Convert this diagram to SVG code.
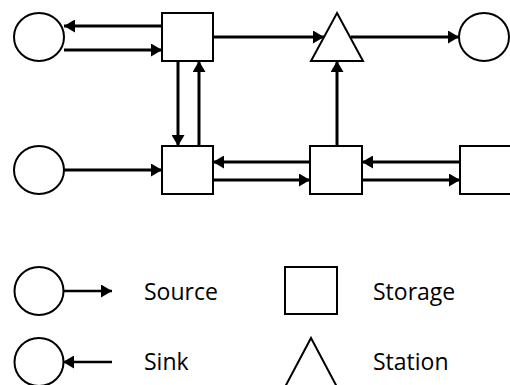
<svg xmlns="http://www.w3.org/2000/svg" width="510" height="385" viewBox="0 0 510 385">
  <style>
    .shape { fill: #fff; stroke: #000; stroke-width: 2; }
    .flow { fill: none; stroke: #000; stroke-width: 3; marker-end: url(#head); }
    .key { fill: none; stroke: #000; stroke-width: 2.5; marker-end: url(#head); }
    .label { font-family: "Open Sans", "Liberation Sans", sans-serif; font-size: 23px; fill: #000; }
  </style>
  <defs>
    <marker id="head" markerUnits="userSpaceOnUse" markerWidth="11" markerHeight="13" refX="11" refY="6.5" orient="auto">
      <path d="M0,0 L11,6.5 L0,13 Z" fill="#000"/>
    </marker>
  </defs>

  <!-- connectors -->
  <g id="connectors">
    <path class="flow" d="M162,26 H64"/>
    <path class="flow" d="M64,50 H162"/>
    <path class="flow" d="M178,61 V146"/>
    <path class="flow" d="M199,146 V61"/>
    <path class="flow" d="M213,37 H324"/>
    <path class="flow" d="M351,37 H459"/>
    <path class="flow" d="M64,170 H162"/>
    <path class="flow" d="M310,162 H213"/>
    <path class="flow" d="M213,180 H310"/>
    <path class="flow" d="M337,146 V61"/>
    <path class="flow" d="M460,162 H362"/>
    <path class="flow" d="M362,180 H460"/>
  </g>

  <!-- network nodes -->
  <g id="source-top"><ellipse class="shape" cx="39" cy="37" rx="25" ry="24"/></g>
  <g id="storage-top"><rect class="shape" x="162" y="13" width="51" height="48"/></g>
  <g id="station"><polygon class="shape" points="337,13 363,61 311,61"/></g>
  <g id="sink-right"><ellipse class="shape" cx="484" cy="37" rx="25" ry="24"/></g>
  <g id="source-bottom"><ellipse class="shape" cx="39" cy="170" rx="25" ry="24"/></g>
  <g id="storage-left"><rect class="shape" x="162" y="146" width="51" height="48"/></g>
  <g id="storage-mid"><rect class="shape" x="310" y="146" width="52" height="48"/></g>
  <g id="storage-right"><rect class="shape" x="460" y="146" width="60" height="48"/></g>

  <!-- legend -->
  <g id="legend-source">
    <ellipse class="shape" cx="39" cy="291" rx="24.5" ry="24"/>
    <path class="key" d="M63,291 H112"/>
    <text class="label" x="144" y="300">Source</text>
  </g>
  <g id="legend-sink">
    <ellipse class="shape" cx="39" cy="362" rx="24.5" ry="24"/>
    <path class="key" d="M112,362 H63"/>
    <text class="label" x="144" y="370">Sink</text>
  </g>
  <g id="legend-storage">
    <rect class="shape" x="285" y="267" width="52" height="47"/>
    <text class="label" x="373" y="300">Storage</text>
  </g>
  <g id="legend-station">
    <polygon class="shape" points="311,338 337,387 285,387"/>
    <text class="label" x="373" y="370">Station</text>
  </g>
</svg>
